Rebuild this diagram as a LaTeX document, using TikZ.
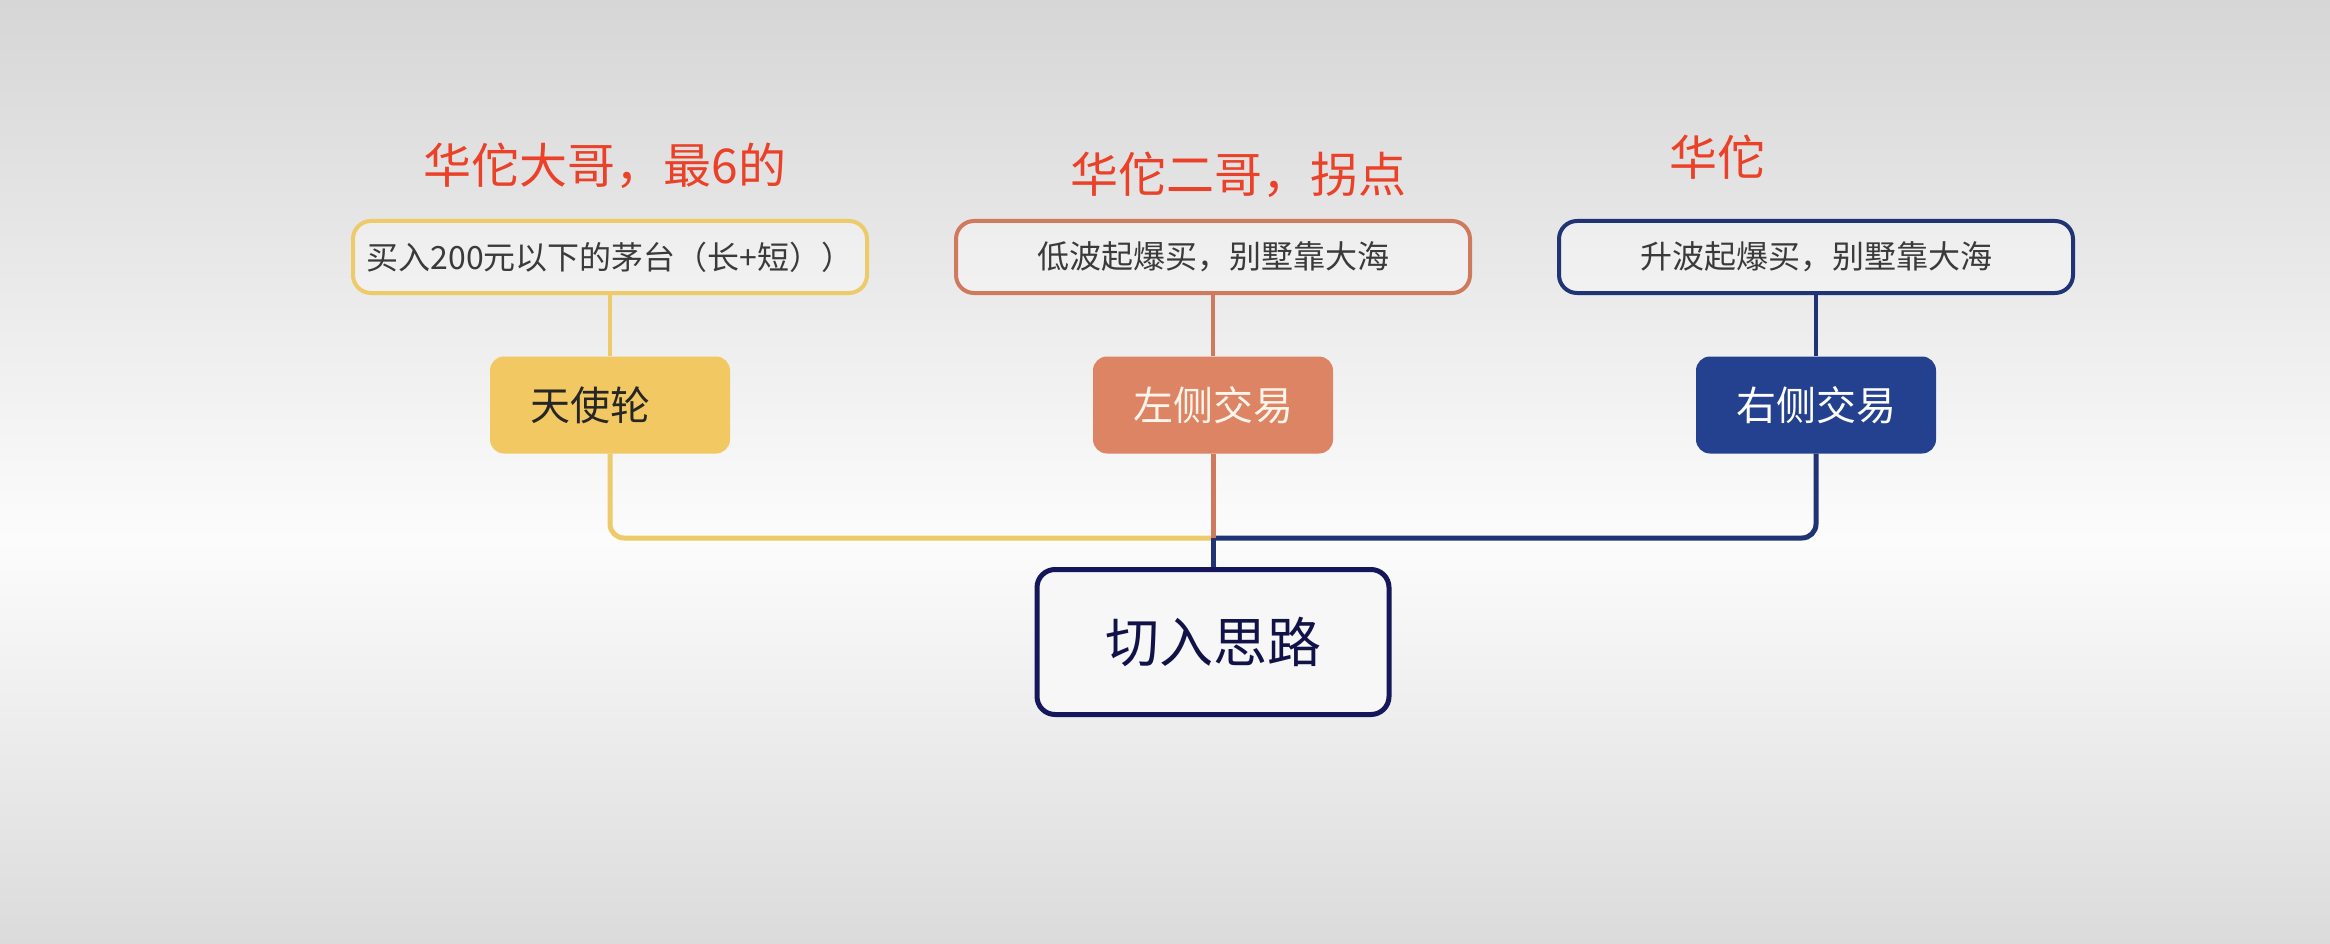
\documentclass[tikz,border=0pt]{standalone}
\usepackage{fontspec}
\setmainfont{Noto Sans CJK SC}
\definecolor{yelfill}{HTML}{F2C862}
\definecolor{yelline}{HTML}{EDCB6A}
\definecolor{orafill}{HTML}{DC8464}
\definecolor{oraline}{HTML}{CF7A5C}
\definecolor{bluefill}{HTML}{23418F}
\definecolor{blueline}{HTML}{1F3375}
\definecolor{rootline}{HTML}{15175A}
\definecolor{redtxt}{HTML}{EA4128}
\definecolor{bgtop}{HTML}{D6D6D6}
\definecolor{bgmid}{HTML}{FCFCFC}
\definecolor{bgbot}{HTML}{DBDBDB}
\definecolor{boxtxt}{HTML}{3A3A3A}
\begin{document}
\begin{tikzpicture}[x=1pt,y=-1pt,
  topbox/.style={draw, line width=4pt, rounded corners=18pt, minimum width=514pt, minimum height=72pt,
    fill=white, fill opacity=0.35, text opacity=1, font=\fontsize{32}{38}\selectfont, text=boxtxt, inner sep=0pt},
  midbox/.style={rounded corners=14pt, minimum width=240pt, minimum height=97pt,
    font=\fontsize{40}{48}\selectfont, inner sep=0pt},
  rootbox/.style={draw=rootline, line width=5pt, rounded corners=18pt, minimum width=352pt, minimum height=145pt,
    fill=white!97!black, font=\fontsize{54}{60}\selectfont, text=rootline!80!black, inner sep=0pt},
  lbl/.style={text=redtxt, font=\fontsize{48}{56}\selectfont, inner sep=0pt},
  conn/.style={line width=5pt},
  thinconn/.style={line width=3.5pt}]
\useasboundingbox (0,0) rectangle (2330,944);
\shade[top color=bgtop, bottom color=bgmid] (0,0) rectangle (2330,540);
\shade[top color=bgmid, bottom color=bgbot] (0,540) rectangle (2330,944);

% labels
\node[lbl] (l1) at (605,166) {华佗大哥，最6的};
\node[lbl] (l2) at (1238,175) {华佗二哥，拐点};
\node[lbl] (l3) at (1717,157) {华佗};

% top boxes
\node[topbox, draw=yelline] (t1) at (610,257) {买入200元以下的茅台（长+短））};
\node[topbox, draw=oraline] (t2) at (1213,257) {低波起爆买，别墅靠大海};
\node[topbox, draw=blueline] (t3) at (1816,257) {升波起爆买，别墅靠大海};

% middle boxes
\node[midbox, fill=yelfill, text=black!85] (m1) at (610,405) {天使轮\rule{40pt}{0pt}};
\node[midbox, fill=orafill, text=white!92!orange] (m2) at (1213,405) {左侧交易};
\node[midbox, fill=bluefill, text=white] (m3) at (1816,405) {右侧交易};

% root
\node[rootbox] (root) at (1213,642) {切入思路};

% connectors
\coordinate (bus) at (1213,538);
\draw[thinconn, yelline] (t1.south) -- (m1.north);
\draw[thinconn, oraline] (t2.south) -- (m2.north);
\draw[thinconn, blueline] (t3.south) -- (m3.north);
\draw[conn, yelline, rounded corners=14pt] (m1.south) |- (bus);
\draw[conn, blueline, rounded corners=14pt] (m3.south) |- (bus);
\draw[conn, blueline] (bus) -- (root.north);
\draw[conn, oraline] (m2.south) -- (bus);
\end{tikzpicture}
\end{document}
